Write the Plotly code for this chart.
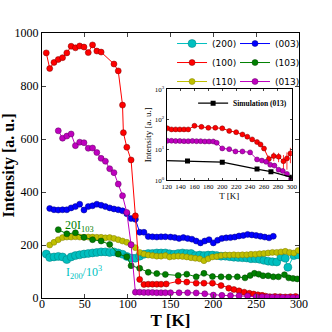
import plotly.graph_objects as go

SERIF = "Liberation Serif"
SANS = "DejaVu Sans"

# (200) reflection, plotted as I200 / 10^3
T_200 = [5, 9, 14, 19, 24, 29, 34, 39, 44, 49, 54, 59, 64, 69, 74, 79, 84, 89, 94, 99,
         104, 109, 114, 119, 124, 129, 134, 139, 144, 149, 154, 159, 164, 169, 174, 179, 184, 189, 194, 199,
         204, 209, 214, 219, 224, 229, 234, 239, 244, 249, 254, 259, 264, 269, 274, 279, 284, 287, 294, 299]
I_200 = [166, 153, 155, 157, 155, 145, 155, 160, 163, 166, 168, 170, 172, 174, 174, 172, 174, 170, 165, 157,
         151, 150, 158, 165, 168, 168, 170, 170, 170, 167, 165, 168, 170, 168, 168, 160, 162, 160, 162, 162,
         160, 158, 158, 156, 154, 153, 152, 151, 148, 148, 146, 142, 139, 137, 136, 155, 150, 116, 160, 163]

T_100 = [5, 9, 14, 19, 24, 29, 34, 39, 44, 49, 54, 59, 64, 69, 84, 89, 94, 95, 99, 104,
         109, 114, 119, 124, 129, 134, 139, 145, 159, 169, 180, 189, 199, 209, 218, 224, 230, 236, 242, 247,
         252, 257, 261, 266, 272, 278, 284, 290, 296]
I_100 = [925, 866, 889, 900, 907, 925, 950, 944, 951, 947, 926, 955, 932, 928, 883, 857, 728, 624, 569, 521,
         310, 70, 51, 52, 52, 52, 52, 53, 63, 60, 56, 56, 56, 47, 37, 32, 27, 22, 18, 15,
         12, 10, 7, 5, 6, 5, 4, 5, 6]

T_110 = [9, 14, 19, 24, 29, 34, 39, 44, 49, 54, 59, 64, 69, 74, 79, 84, 89, 94, 99, 104,
         109, 114, 119, 124, 129, 134, 139, 144, 149, 154, 159, 164, 169, 174, 179, 184, 189, 194, 199, 204,
         209, 214, 219, 224, 229, 234, 239, 244, 249, 254, 259, 264, 269, 274, 279, 284, 289, 294, 299]
I_110 = [200, 210, 220, 228, 230, 230, 231, 230, 229, 230, 230, 229, 229, 227, 228, 225, 220, 215, 210, 201,
         190, 172, 166, 162, 160, 158, 158, 160, 155, 157, 158, 157, 155, 152, 150, 148, 141, 148, 155, 157,
         160, 162, 162, 163, 162, 163, 163, 165, 165, 167, 168, 170, 172, 172, 174, 176, 172, 170, 179]

T_003 = [9, 14, 19, 24, 29, 34, 39, 44, 49, 54, 59, 64, 69, 74, 79, 84, 89, 94, 99, 104,
         109, 114, 119, 124, 129, 134, 139, 144, 150, 155, 160, 165, 170, 175, 180, 185, 190, 195, 200, 205,
         210, 215, 220, 225, 230, 235, 240, 245, 250, 255, 260, 265, 270]
I_003 = [338, 333, 332, 333, 333, 340, 345, 354, 332, 345, 348, 354, 350, 345, 340, 336, 333, 329, 318, 300,
         297, 248, 248, 232, 231, 230, 231, 231, 230, 228, 225, 228, 225, 222, 215, 208, 215, 220, 208, 218,
         225, 227, 228, 230, 234, 236, 240, 238, 236, 233, 230, 227, 233]

# (103) reflection, plotted as 20 * I103
T_103 = [19, 29, 39, 49, 59, 69, 79, 89, 99, 104, 114, 124, 134, 144, 159, 169, 180, 189, 199, 209,
         218, 228, 237, 243, 248, 253, 258, 264, 270, 276, 283, 288, 293, 298]
I_103 = [258, 242, 246, 229, 220, 215, 202, 166, 156, 122, 112, 97, 92, 89, 85, 90, 80, 93, 81, 80,
         79, 80, 76, 85, 93, 90, 84, 84, 80, 80, 88, 76, 74, 72]

T_013 = [19, 24, 29, 34, 39, 44, 49, 54, 59, 64, 69, 74, 79, 84, 89, 94, 99, 104, 109, 114,
         119, 124, 129, 134, 139, 144, 150, 160, 170, 180, 190, 200, 210, 220, 230, 240, 250, 257, 263, 269,
         275, 281, 287, 293, 299]
I_013 = [631, 603, 611, 619, 575, 588, 586, 565, 566, 549, 527, 516, 488, 473, 430, 386, 323, 201, 22, 22,
         21, 21, 21, 20, 20, 20, 20, 20, 20, 19, 16, 11, 10, 9, 8.5, 8, 5, 4.5, 4, 3.1,
         2.7, 2.2, 1.8, 1.6, 1.1]

# inset (log scale)
T_100_INSET = [121, 127, 133, 139, 145, 151, 160, 170, 180, 190, 200, 210, 220, 229, 236, 243, 250, 255, 260, 267,
               274, 281, 288, 293, 298]
I_100_INSET = [51, 47, 47, 47, 47, 47, 62, 57, 53, 53, 51, 42, 38, 32, 27, 22, 18, 15, 11, 5,
               6.2, 5.9, 4.2, 5.2, 7.6]
E_100_INSET = [3, 3, 3, 3, 3, 3, 4, 4, 3, 3, 3, 3, 3, 3, 2, 2, 2, 2, 1.5, 1.5,
               2, 2, 2.5, 3, 4]

T_013_INSET = [121, 127, 133, 139, 145, 151, 157, 163, 169, 175, 181, 187, 192, 200, 210, 219, 229, 240, 250, 257,
               263, 269, 275, 281, 287, 293, 299]
I_013_INSET = [19.8, 19.8, 19.5, 19.5, 19.2, 19.2, 19.5, 19.2, 19.2, 18.8, 18.8, 18.8, 17, 11.1, 10.5, 8.8, 8.8, 8.2, 4.8, 4.4,
               4, 3.2, 3, 2.2, 2, 1.6, 1.1]

T_SIM = [100, 150, 200, 250, 270, 300]
I_SIM = [4.5, 4.3, 3.9, 2.3, 1.9, 1.23]

X_TICKS = [0, 50, 100, 150, 200, 250, 300]
Y_TICKS = [0, 200, 400, 600, 800, 1000]
INSET_X_TICKS = [120, 140, 160, 180, 200, 220, 240, 260, 280, 300]
INSET_Y_TICKS = [1, 10, 100, 1000]
INSET_Y_LABELS = ["10<sup>0</sup>", "10<sup>1</sup>", "10<sup>2</sup>", "10<sup>3</sup>"]

SERIES = [
    # name, T, I, fill, edge, size, legend
    ("(200)", T_200, I_200, "#00bfbf", "#007f7f", 8, "legend"),
    ("(110)", T_110, I_110, "#bfbf00", "#7f7f00", 6, "legend"),
    ("(103)", T_103, I_103, "#008000", "#004000", 6, "legend2"),
    ("(003)", T_003, I_003, "#0000ff", "#00007f", 6, "legend2"),
    ("(100)", T_100, I_100, "#ff0000", "#7f0000", 6, "legend"),
    ("(013)", T_013, I_013, "#bf00bf", "#5f005f", 6, "legend2"),
]
RANK = {"(200)": 1, "(100)": 2, "(110)": 3, "(003)": 1, "(103)": 2, "(013)": 3}

fig = go.Figure()

for name, t, i, fill, edge, size, legend in SERIES:
    fig.add_trace(
        go.Scatter(
            x=t,
            y=i,
            name=name,
            mode="lines+markers",
            line=dict(color=fill, width=1),
            marker=dict(color=fill, size=size, line=dict(color=edge, width=0.5)),
            error_y=dict(type="constant", value=6, color=fill, thickness=0.8, width=0),
            legend=legend,
            legendrank=RANK[name],
            xaxis="x",
            yaxis="y",
        )
    )

fig.add_trace(
    go.Scatter(
        x=T_100_INSET,
        y=I_100_INSET,
        mode="lines+markers",
        line=dict(color="#ff0000", width=1),
        marker=dict(color="#ff0000", size=5, line=dict(color="#7f0000", width=0.5)),
        error_y=dict(type="data", array=E_100_INSET, color="#ff0000", thickness=0.8, width=0),
        showlegend=False,
        xaxis="x2",
        yaxis="y2",
    )
)
fig.add_trace(
    go.Scatter(
        x=T_013_INSET,
        y=I_013_INSET,
        mode="lines+markers",
        line=dict(color="#bf00bf", width=1),
        marker=dict(color="#bf00bf", size=5, line=dict(color="#5f005f", width=0.5)),
        showlegend=False,
        xaxis="x2",
        yaxis="y2",
    )
)
fig.add_trace(
    go.Scatter(
        x=T_SIM,
        y=I_SIM,
        name="<b>Simulation (013)</b>",
        mode="lines+markers",
        line=dict(color="black", width=1.3),
        marker=dict(color="black", size=5, symbol="square"),
        legend="legend3",
        xaxis="x2",
        yaxis="y2",
    )
)

axis_style = dict(
    showline=True,
    linecolor="black",
    linewidth=1,
    mirror="ticks",
    ticks="inside",
    showgrid=False,
    zeroline=False,
    automargin=False,
)

fig.update_layout(
    width=332,
    height=332,
    margin=dict(l=42, r=33, t=33, b=34),
    paper_bgcolor="white",
    plot_bgcolor="white",
    font=dict(family=SERIF, color="black"),
    xaxis=dict(
        range=[0, 300],
        tickvals=X_TICKS,
        ticklen=4,
        ticklabelstandoff=-5,
        tickfont=dict(family=SERIF, size=12),
        title=dict(text="<b>T [K]</b>", font=dict(family=SERIF, size=17), standoff=2),
        **axis_style,
    ),
    yaxis=dict(
        range=[0, 1000],
        tickvals=Y_TICKS,
        ticklen=4,
        tickfont=dict(family=SERIF, size=12),
        title=dict(text="<b>Intensity [a. u.]</b>", font=dict(family=SERIF, size=16), standoff=2),
        **axis_style,
    ),
    xaxis2=dict(
        domain=[0.485, 0.972],
        anchor="y2",
        range=[120, 300],
        tickvals=INSET_X_TICKS,
        ticklen=2,
        tickfont=dict(family=SERIF, size=7),
        title=dict(text="T [K]", font=dict(family=SERIF, size=9), standoff=1),
        **axis_style,
    ),
    yaxis2=dict(
        domain=[0.445, 0.788],
        anchor="x2",
        type="log",
        range=[0, 3],
        tickvals=INSET_Y_TICKS,
        ticktext=INSET_Y_LABELS,
        ticklen=2,
        tickfont=dict(family=SERIF, size=7),
        title=dict(text="Intensity [a. u.]", font=dict(family=SERIF, size=9), standoff=1),
        **axis_style,
    ),
    legend=dict(
        x=0.506, y=1.015, xanchor="left", yanchor="top",
        bgcolor="rgba(0,0,0,0)", font=dict(family=SANS, size=9, color="black"),
        itemwidth=30, tracegroupgap=0,
    ),
    legend2=dict(
        x=0.751, y=1.015, xanchor="left", yanchor="top",
        bgcolor="rgba(0,0,0,0)", font=dict(family=SANS, size=9, color="black"),
        itemwidth=30, tracegroupgap=0,
    ),
    legend3=dict(
        x=0.588, y=0.79, xanchor="left", yanchor="top",
        bgcolor="rgba(0,0,0,0)", font=dict(family=SERIF, size=7.5, color="black"),
        itemwidth=30,
    ),
    annotations=[
        dict(x=44, y=272, xref="x", yref="y", text="20I<sub>103</sub>", showarrow=False,
             font=dict(family=SERIF, size=12, color="#008000")),
        dict(x=49, y=96, xref="x", yref="y", text="I<sub>200</sub>/10<sup>3</sup>", showarrow=False,
             font=dict(family=SERIF, size=12, color="#00bfbf")),
    ],
)

# the page body has a default 8px margin; drop it so the figure sits at the window corner
fig.write_html(
    "out.html",
    config={"displayModeBar": False},
    post_script="document.body.style.margin = '0';",
)
